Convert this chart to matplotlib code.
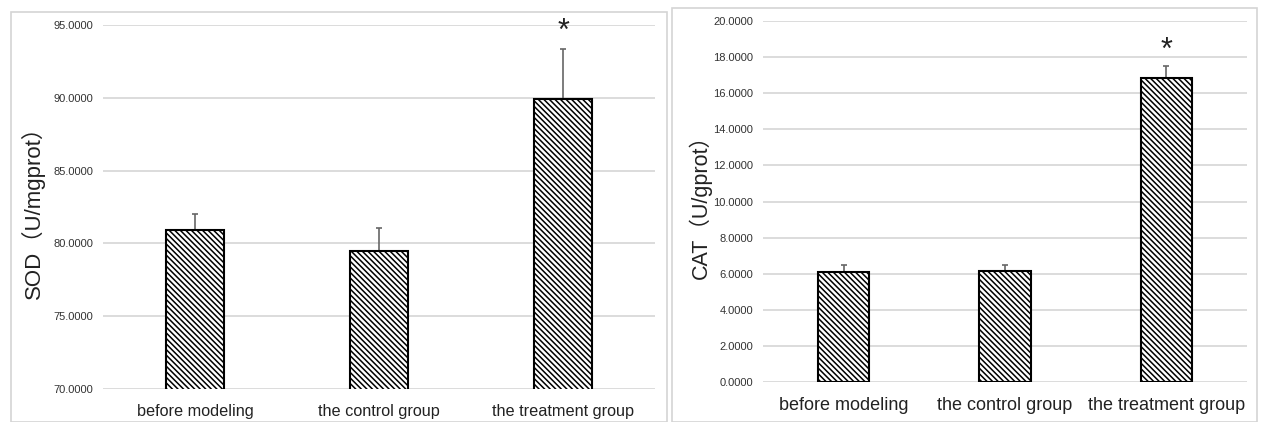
import matplotlib
matplotlib.use("Agg")
import matplotlib.pyplot as plt
from matplotlib.patches import Rectangle
import numpy as np

plt.rcParams['font.family'] = ['Liberation Sans', 'Noto Sans CJK SC']
plt.rcParams['hatch.linewidth'] = 1.1

groups = ["before modeling", "the control group", "the treatment group"]

sod_mean = [80.90, 79.47, 89.93]
sod_err = [1.10, 1.61, 3.44]
sod_ticks = [70, 75, 80, 85, 90, 95]

cat_mean = [6.08, 6.17, 16.86]
cat_err = [0.40, 0.31, 0.64]
cat_ticks = [0, 2, 4, 6, 8, 10, 12, 14, 16, 18, 20]

W, H = 1261, 422
fig = plt.figure(figsize=(W / 100, H / 100), dpi=100)

# light grey frames round each panel (pixel coords -> figure fraction)
def frame(x0, y0, x1):
    r = Rectangle((x0 / W, 0), (x1 - x0) / W, 1 - y0 / H, transform=fig.transFigure,
                  fill=False, edgecolor='#d4d4d4', linewidth=1.2)
    fig.add_artist(r)

frame(11, 12, 667)
frame(672, 8, 1257)

HATCH = '\\' * 6


def draw_panel(rect, means, errs, ticks, ylabel, label_x, label_size, xlab_size, xpad, star_gap):
    ax = fig.add_axes(rect)
    x = np.arange(len(groups))
    ax.bar(x, means, width=0.32, bottom=0, color='white', edgecolor='black',
           linewidth=1.5, hatch=HATCH, zorder=3)
    ax.errorbar(x, means, yerr=[np.zeros(len(errs)), errs], fmt='none',
                ecolor='#666666', elinewidth=1.2, capsize=2, capthick=1.2, zorder=2)
    # significance mark over the treatment group
    ax.text(x[-1], means[-1] + errs[-1] + star_gap, '*', ha='center', va='center',
            fontsize=22, color='#222222')
    ax.set_ylim(ticks[0], ticks[-1])
    ax.set_xlim(-0.5, len(groups) - 0.5)
    ax.set_yticks(ticks)
    ax.set_yticklabels([f"{t:.4f}" for t in ticks], fontsize=8, color='#333333')
    ax.set_xticks(x)
    ax.set_xticklabels(groups, fontsize=xlab_size, color='#222222')
    ax.tick_params(axis='both', length=0)
    ax.tick_params(axis='y', pad=7)
    ax.tick_params(axis='x', pad=xpad)
    ax.yaxis.grid(True, color='#d9d9d9', linewidth=1.3, zorder=0)
    ax.set_axisbelow(True)
    for s in ax.spines.values():
        s.set_visible(False)
    ax.set_ylabel(ylabel, fontsize=label_size, color='#222222', va='center')
    ax.yaxis.set_label_coords(label_x, 0.5)
    return ax


ax1 = draw_panel([103 / W, 33 / H, 552 / W, 364 / H], sod_mean, sod_err,
                 sod_ticks, "SOD（U/mgprot）", (33 - 103) / 552, 16, 11.7, 10.5, 1.15)
ax2 = draw_panel([763 / W, 40 / H, 484 / W, 361 / H], cat_mean, cat_err,
                 cat_ticks, "CAT（U/gprot）", (700 - 763) / 484, 15.5, 13, 10.5, 0.87)

fig.savefig("out.png", dpi=100)
